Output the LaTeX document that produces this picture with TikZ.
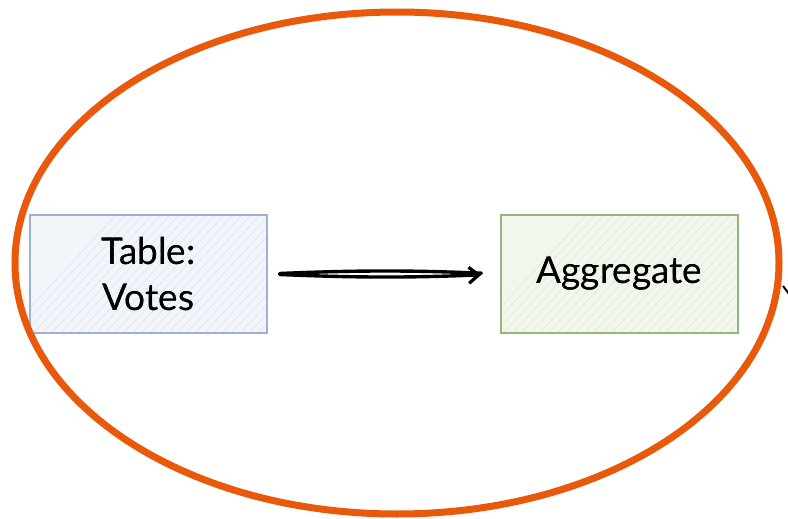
\documentclass[tikz,border=0pt]{standalone}
\usepackage{fontspec}
\setmainfont{Lato}
\usetikzlibrary{arrows.meta,shapes.geometric}
\definecolor{ringorange}{HTML}{E8590C}
\definecolor{tblline}{HTML}{9DB2D3}
\definecolor{tblfill}{HTML}{F2F6FB}
\definecolor{aggline}{HTML}{93B57E}
\definecolor{aggfill}{HTML}{F2F7EE}
\definecolor{hatchblue}{HTML}{DCE6F2}
\definecolor{hatchgreen}{HTML}{DFEBD6}
\tikzset{
  box/.style={draw, line width=1.3pt, minimum width=237pt, minimum height=118pt,
    inner sep=0pt, align=center, font=\fontsize{37}{46}\selectfont},
  flow/.style={line width=3.4pt, line cap=round},
}
\begin{document}
\begin{tikzpicture}[x=1pt,y=-1pt]
  \useasboundingbox (0,0) rectangle (788,519);
  \fill[white] (0,0) rectangle (788,519);

  % source table and aggregation step
  \node[box, draw=tblline, fill=tblfill] (votes) at (148.5,274) {Table:\\Votes};
  \node[box, draw=aggline, fill=aggfill] (agg) at (619.5,274) {Aggregate};

  % light diagonal hatching inside the boxes
  \begin{scope}
    \clip (31,216) rectangle (266,332);
    \foreach \i in {0,9,...,380}
      \draw[hatchblue, line width=0.7pt] (\i,340) -- (\i+130,200);
  \end{scope}
  \begin{scope}
    \clip (502,216) rectangle (737,332);
    \foreach \i in {470,479,...,860}
      \draw[hatchgreen, line width=0.7pt] (\i,340) -- (\i+130,200);
  \end{scope}
  \node[box, draw=tblline, fill=none] at (votes) {Table:\\Votes};
  \node[box, draw=aggline, fill=none] at (agg) {Aggregate};

  % flow from the table into the aggregation, drawn as a double stroke
  \draw[flow, shorten <=12pt, shorten >=19pt] (votes.east) to[bend left=2.4] (agg.west);
  \draw[flow, shorten <=12pt, shorten >=19pt, -{Straight Barb[length=10pt,width=16pt,line width=3.2pt]}]
    (votes.east) to[bend right=2.4] (agg.west);

  % grouping ring around both steps
  \node[draw=ringorange, line width=7pt, ellipse, minimum width=764pt, minimum height=502pt,
        inner sep=0pt] (ring) at (397,263) {};

  % outgoing connector leaving the group on the right
  \coordinate (outA) at (783,286);
  \coordinate (outB) at (792,298);
  \draw[line width=2pt] (outA) -- (outB);
\end{tikzpicture}
\end{document}
